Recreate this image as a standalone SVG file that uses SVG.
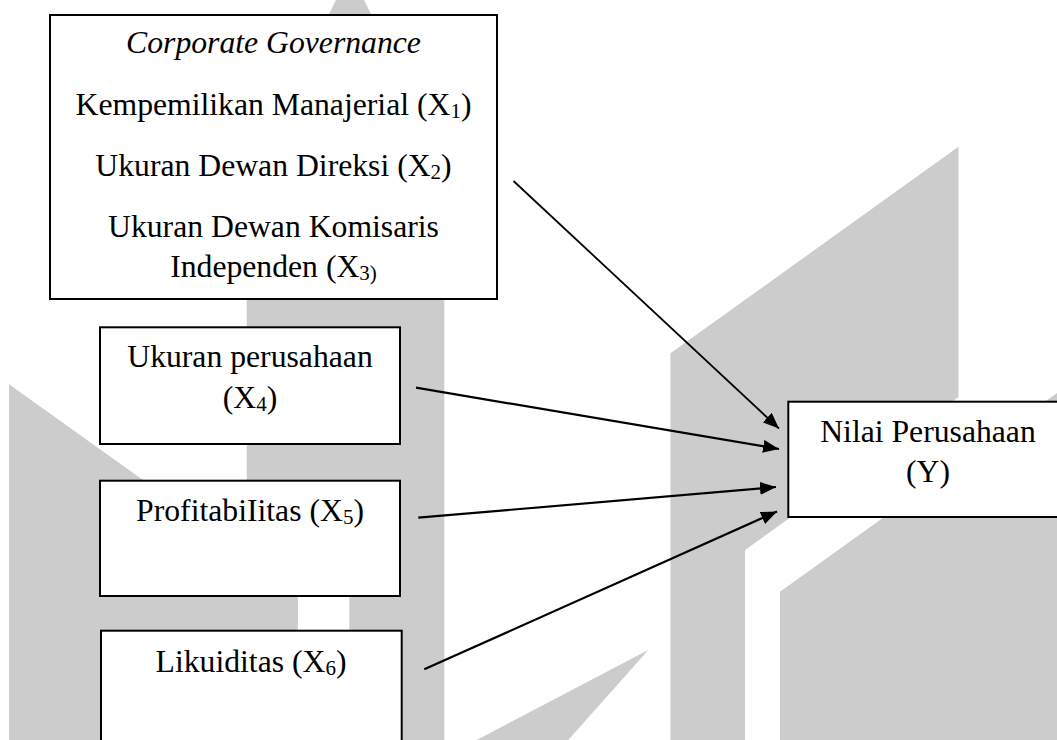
<svg xmlns="http://www.w3.org/2000/svg" width="1057" height="740" viewBox="0 0 1057 740">
<style>
.wm{fill:#cccccc;stroke:none}
.box{fill:#ffffff;stroke:#000000;stroke-width:2}
.t{font-family:"Liberation Serif","Times New Roman",serif;font-size:31.7px;fill:#000000;text-anchor:middle}
.it{font-style:italic}
.sub{font-size:21px}
.conn{stroke:#000000;stroke-width:2.2;fill:none;marker-end:url(#arr)}
</style>
<defs>
<marker id="arr" markerUnits="userSpaceOnUse" markerWidth="18" markerHeight="14" refX="16" refY="6.5" orient="auto">
<path d="M0,0 L16,6.5 L0,13 Z" fill="#000000"/>
</marker>
</defs>
<rect x="0" y="0" width="1057" height="740" fill="#ffffff"/>
<g id="watermark">
<polygon class="wm" points="336,0 364,0 444.3,160 444.3,740 246.7,740 246.7,180"/>
<rect x="297.7" y="540" width="51.6" height="200" fill="#ffffff"/>
<polygon class="wm" points="9,384.3 297.7,590.5 297.7,740 9,740"/>
<polygon class="wm" points="670.5,353.3 958.5,146.7 958.5,397 745,550 745,740 670.5,740"/>
<polygon class="wm" points="780,591.7 1070,383.7 1070,740 780,740"/>
<polygon class="wm" points="648.3,650 476.7,740 568.3,740"/>
</g>
<g id="connectors">
<line class="conn" style="stroke-width:1.8" x1="513.5" y1="181" x2="779" y2="428.5"/>
<line class="conn" x1="416" y1="387.7" x2="779" y2="449"/>
<line class="conn" x1="418.3" y1="517.7" x2="776" y2="487"/>
<line class="conn" x1="424.3" y1="669.3" x2="777" y2="511.5"/>
</g>
<g id="node-cg">
<rect class="box" x="50" y="15" width="447" height="284"/>
<text class="t it" x="273.5" y="53.3">Corporate Governance</text>
<text class="t" x="273.5" y="115">Kempemilikan Manajerial (X<tspan class="sub" dy="3">1</tspan><tspan dy="-3">)</tspan></text>
<text class="t" x="273.5" y="175.7">Ukuran Dewan Direksi (X<tspan class="sub" dy="3">2</tspan><tspan dy="-3">)</tspan></text>
<text class="t" x="273.5" y="237.3">Ukuran Dewan Komisaris</text>
<text class="t" x="273.5" y="276.7">Independen (X<tspan class="sub" dy="3">3)</tspan></text>
</g>
<g id="node-x4">
<rect class="box" x="100" y="327.3" width="300" height="116.7"/>
<text class="t" x="250" y="367.3">Ukuran perusahaan</text>
<text class="t" x="250" y="408.3">(X<tspan class="sub" dy="3">4</tspan><tspan dy="-3">)</tspan></text>
</g>
<g id="node-x5">
<rect class="box" x="100" y="480.7" width="300" height="115.3"/>
<text class="t" x="250" y="520.7">ProfitabiIitas (X<tspan class="sub" dy="3">5</tspan><tspan dy="-3">)</tspan></text>
</g>
<g id="node-x6">
<rect class="box" x="101" y="630.7" width="300.7" height="120"/>
<text class="t" x="251" y="671.7">Likuiditas (X<tspan class="sub" dy="3">6</tspan><tspan dy="-3">)</tspan></text>
</g>
<g id="node-y">
<rect class="box" x="788.3" y="401.7" width="280" height="115.3"/>
<text class="t" x="928" y="441.5">Nilai Perusahaan</text>
<text class="t" x="928" y="482">(Y)</text>
</g>
</svg>
